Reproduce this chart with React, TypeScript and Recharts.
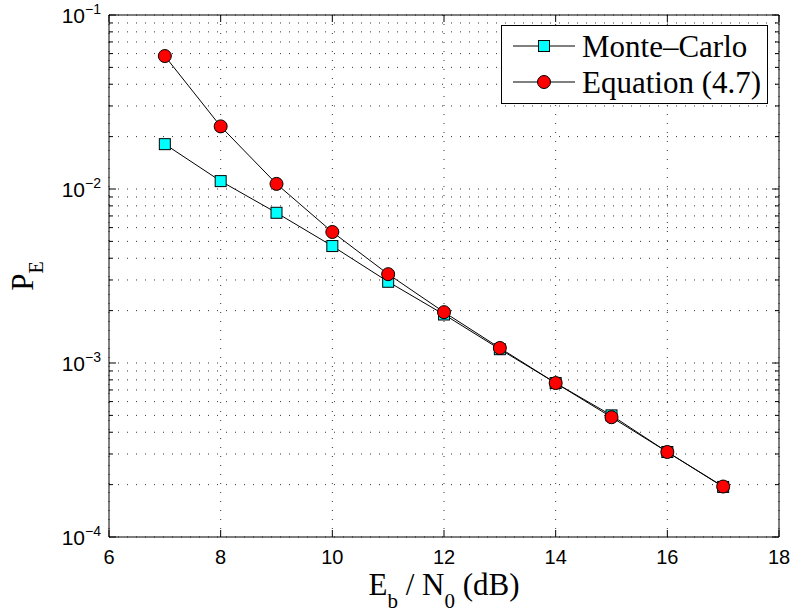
import { LineChart, Line, XAxis, YAxis, CartesianGrid, ReferenceArea, Legend } from 'recharts';

const snr = [7, 8, 9, 10, 11, 12, 13, 14, 15, 16, 17];
const monteCarlo = [0.0181, 0.0111, 0.0073, 0.0047, 0.00293, 0.0019, 0.0012, 0.000767, 0.0005, 0.000308, 0.000194];
const equation = [0.0581, 0.0229, 0.0107, 0.00566, 0.00324, 0.00196, 0.00122, 0.000767, 0.000488, 0.000308, 0.000195];

const xTicks = [6, 8, 10, 12, 14, 16, 18];
const yDecades = [1e-4, 1e-3, 1e-2, 1e-1];
const yTicks: number[] = [];
yDecades.forEach((d, i) => {
  yTicks.push(d);
  if (i < yDecades.length - 1) for (let m = 2; m <= 9; m++) yTicks.push(d * m);
});

const seriesNames = ['Monte\u2013Carlo', 'Equation (4.7)'];

const data = snr.map((x, i) => ({ x, mc: monteCarlo[i], eq: equation[i] }));

const W = 792;
const H = 616;
// axis boxes are 1px wide, so plot area is x 109..779, y 15..537
const margin = { top: 15, right: 13, bottom: 78, left: 108 };
const PW = 670;
const PH = 522;
const PL = 109;
const PT = 15;

const sans = '"Liberation Sans", Arial, sans-serif';
const serif = '"Liberation Serif", "Times New Roman", serif';

const isDecade = (v: number) => Math.abs(Math.log10(v) - Math.round(Math.log10(v))) < 1e-6;

function YTick(props: any) {
  const { y, payload } = props;
  const x = PL;
  const v = payload.value;
  const major = isDecade(v);
  const len = major ? 7 : 4;
  return (
    <g>
      <line x1={x} x2={x + len} y1={y} y2={y} stroke="#000" />
      <line x1={x + PW - len} x2={x + PW} y1={y} y2={y} stroke="#000" />
      {major && (
        <text x={x - 8} y={y + 8} textAnchor="end" fontFamily={sans} fontSize={21} fill="#000">
          10
          <tspan dy={-9} fontSize={14}>{'\u2212' + Math.round(-Math.log10(v))}</tspan>
        </text>
      )}
    </g>
  );
}

function XTick(props: any) {
  const { x, payload } = props;
  const y = PT + PH;
  return (
    <g>
      <line x1={x} x2={x} y1={y} y2={y - 7} stroke="#000" />
      <line x1={x} x2={x} y1={PT} y2={PT + 7} stroke="#000" />
      <text x={x} y={y + 27} textAnchor="middle" fontFamily={sans} fontSize={20} fill="#000">
        {payload.value}
      </text>
    </g>
  );
}

function Square(p: any) {
  return (
    <rect key={p.index} x={p.cx - 5.5} y={p.cy - 5.5} width={11} height={11} fill="#00ffff" stroke="#000" strokeWidth={1} />
  );
}

function LegendBox() {
  return (
    <svg width={267} height={79} style={{ display: 'block' }}>
      <rect x={0.5} y={0.5} width={266} height={78} fill="#fff" stroke="#000" />
      <line x1={12} x2={74} y1={21} y2={21} stroke="#000" />
      <rect x={37.5} y={15.5} width={11} height={11} fill="#00ffff" stroke="#000" />
      <text x={81} y={32} fontFamily={serif} fontSize={31} fill="#000">{seriesNames[0]}</text>
      <line x1={12} x2={74} y1={57} y2={57} stroke="#000" />
      <circle cx={43} cy={57} r={6.5} fill="#ff0000" stroke="#000" />
      <text x={81} y={68} fontFamily={serif} fontSize={31} fill="#000">{seriesNames[1]}</text>
    </svg>
  );
}

export default function App() {
  return (
    <div style={{ position: 'absolute', left: 0, top: 0, width: W, height: H, background: '#fff' }}>
      <LineChart width={W} height={H} data={data} margin={margin}>
        <CartesianGrid stroke="#333" strokeDasharray="1 8" />
        <XAxis
          dataKey="x"
          type="number"
          domain={[6, 18]}
          ticks={xTicks}
          allowDataOverflow
          height={1}
          tickSize={0}
          tickMargin={0}
          tickLine={false}
          axisLine={false}
          interval={0}
          tick={(p: any) => <XTick {...p} />}
        />
        <YAxis
          type="number"
          scale="log"
          domain={[1e-4, 1e-1]}
          ticks={yTicks}
          allowDataOverflow
          width={1}
          tickSize={0}
          tickMargin={0}
          tickLine={false}
          axisLine={false}
          interval={0}
          tick={(p: any) => <YTick {...p} />}
        />
        <ReferenceArea x1={6} x2={18} y1={1e-4} y2={1e-1} fill="none" stroke="#000" strokeWidth={1} />
        <Line
          dataKey="mc"
          name={seriesNames[0]}
          stroke="#000"
          strokeWidth={1}
          dot={(p: any) => <Square {...p} />}
          isAnimationActive={false}
        />
        <Line
          dataKey="eq"
          name={seriesNames[1]}
          stroke="#000"
          strokeWidth={1}
          dot={{ r: 6.5, fill: '#ff0000', stroke: '#000', strokeWidth: 1 }}
          isAnimationActive={false}
        />
        <Legend
          layout="horizontal"
          verticalAlign="middle"
          align="center"
          content={() => <LegendBox />}
          wrapperStyle={{ left: 501, top: 25, width: 267, height: 79 }}
        />
        <text x={PL + PW / 2} y={595} textAnchor="middle" fontFamily={serif} fontSize={31} fill="#000">
          E<tspan dy={13} fontSize={21}>b</tspan>
          <tspan dy={-13}> / N</tspan>
          <tspan dy={13} fontSize={21}>0</tspan>
          <tspan dy={-13}> (dB)</tspan>
        </text>
        <text
          x={33}
          y={PT + PH / 2}
          transform={`rotate(-90, 33, ${PT + PH / 2})`}
          textAnchor="middle"
          fontFamily={serif}
          fontSize={31}
          fill="#000"
        >
          P<tspan dy={10} fontSize={20}>E</tspan>
        </text>
      </LineChart>
    </div>
  );
}
